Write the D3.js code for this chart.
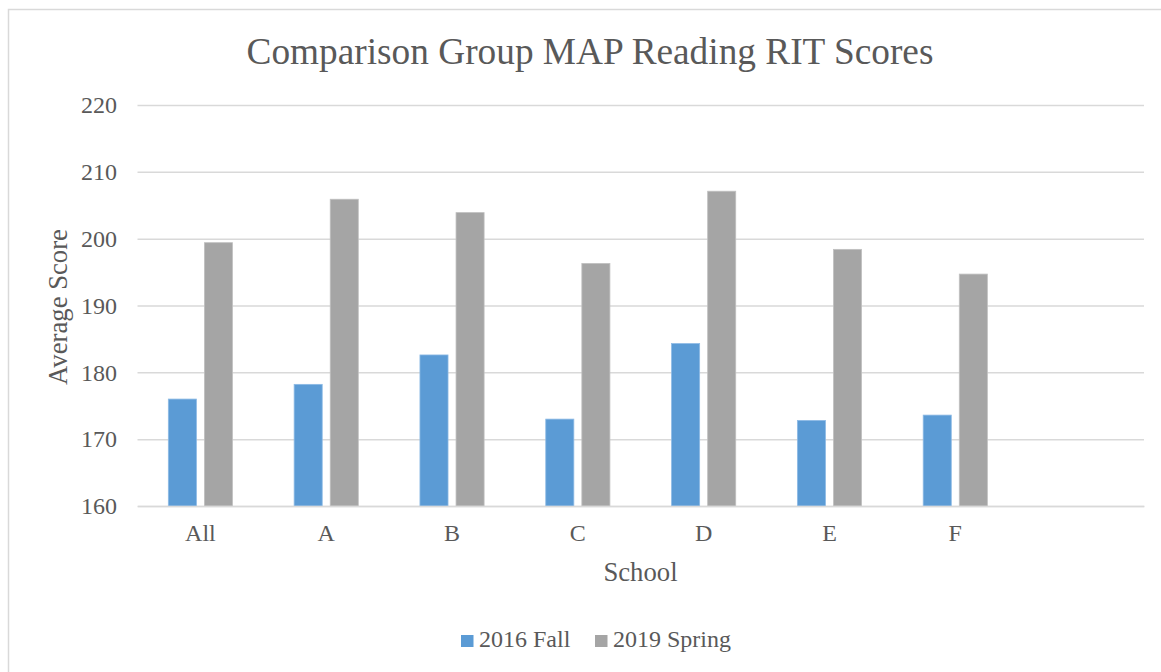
<!DOCTYPE html>
<html><head><meta charset="utf-8">
<script src="https://cdn.jsdelivr.net/npm/d3@7"></script>
<style>
html,body{margin:0;padding:0;background:#fff;}
svg text{font-family:"Liberation Serif","Times New Roman",serif;fill:#595959;}
</style></head>
<body><svg id="chart" width="1161" height="672"></svg>
<script>
const categories = ["All","A","B","C","D","E","F",""];
const fall2016 = [176.0,178.2,182.6,173.0,184.3,172.8,173.6,null];
const spring2019 = [199.4,205.9,203.9,196.3,207.1,198.4,194.7,null];
const seriesNames = ["2016 Fall","2019 Spring"];
const colors = ["#5B9BD5","#A5A5A5"];
const yTicks = [160,170,180,190,200,210,220];

(function(){
const FF = "Liberation Serif";
const svg = d3.select("#chart");
svg.append("rect").attr("x",8.5).attr("y",9.5).attr("width",1170).attr("height",680)
  .attr("fill","#fff").attr("stroke","#D9D9D9").attr("stroke-width",1.5);

const pL=137.5, pR=1144, pT=105, pB=506;
const y = d3.scaleLinear().domain([160,220]).range([pB,pT]);
const x0 = d3.scaleBand().domain(d3.range(categories.length)).range([pL,pR]).paddingInner(0.49).paddingOuter(0.245);
const x1 = d3.scaleBand().domain([0,1]).range([0,x0.bandwidth()]).paddingInner(0.222).paddingOuter(0);

const yAxis = d3.axisLeft(y).tickValues(yTicks).tickSize(-(pR-pL)).tickPadding(20.5).tickFormat(d3.format("d"));
const ga = svg.append("g").attr("transform",`translate(${pL},0)`).call(yAxis);
ga.attr("font-family",FF).attr("font-size",24);
ga.select(".domain").remove();
ga.selectAll(".tick line").attr("stroke","#D9D9D9").attr("stroke-width",1.5);
ga.selectAll(".tick text").attr("fill","#595959");

const data = categories.map((c,i)=>({c,i,vals:[fall2016[i],spring2019[i]]}));
const groups = svg.append("g").selectAll("g").data(data).join("g")
  .attr("transform",d=>`translate(${x0(d.i)},0)`);
groups.selectAll("rect").data(d=>d.vals.map((v,k)=>({v,k})).filter(e=>e.v!=null)).join("rect")
  .attr("x",e=>x1(e.k)).attr("width",x1.bandwidth())
  .attr("y",e=>y(e.v)).attr("height",e=>y(160)-y(e.v))
  .attr("fill",e=>colors[e.k]).attr("stroke",e=>e.k===0?"#8DBAE5":"#C0C0C0").attr("stroke-width",0.8);

const xAxis = d3.axisBottom(x0).tickFormat(i=>categories[i]).tickSize(0).tickPadding(18);
const gx = svg.append("g").attr("transform",`translate(0,${pB})`).call(xAxis);
gx.attr("font-family",FF).attr("font-size",24);
gx.select(".domain").attr("stroke","#D9D9D9").attr("stroke-width",1.5);
gx.selectAll(".tick text").attr("fill","#595959");

svg.append("text").attr("x",590).attr("y",63.5).attr("text-anchor","middle").attr("font-size",37.3).attr("font-family",FF).text("Comparison Group MAP Reading RIT Scores");
svg.append("text").attr("x",640.5).attr("y",580.5).attr("text-anchor","middle").attr("font-size",26.7).attr("font-family",FF).text("School");
svg.append("text").attr("transform","translate(67,307) rotate(-90)").attr("text-anchor","middle").attr("font-size",26.7).attr("font-family",FF).text("Average Score");

const legend = svg.append("g");
const lx=[461,595];
seriesNames.forEach((n,k)=>{
  legend.append("rect").attr("x",lx[k]).attr("y",635).attr("width",12.5).attr("height",12).attr("fill",colors[k]);
  legend.append("text").attr("x",lx[k]+18).attr("y",647).attr("font-size",24).attr("font-family",FF).text(n);
});
})();
</script></body></html>
